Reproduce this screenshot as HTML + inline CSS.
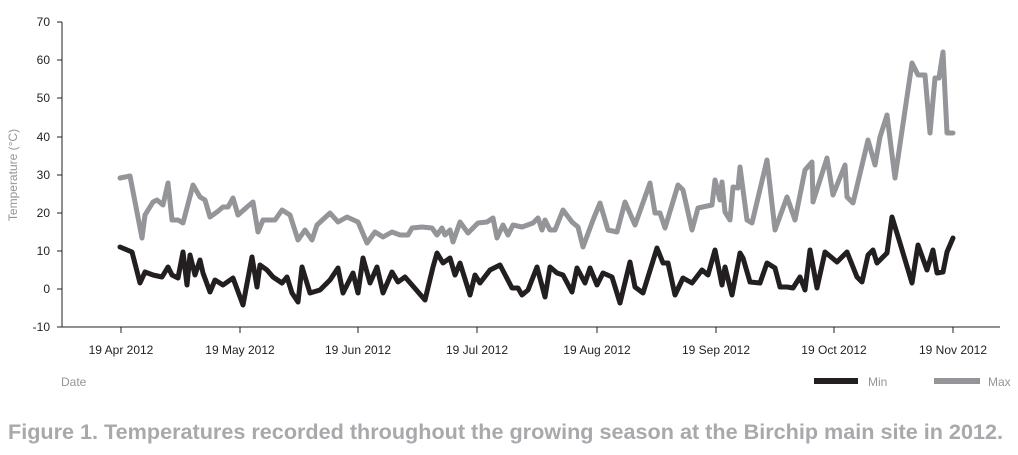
<!DOCTYPE html>
<html><head><meta charset="utf-8"><style>
body{margin:0;background:#fff;width:1018px;height:450px;overflow:hidden}
text{font-family:"Liberation Sans",sans-serif}
</style></head><body>
<svg width="1018" height="450" viewBox="0 0 1018 450" xmlns="http://www.w3.org/2000/svg">
<g stroke="#231f20" stroke-width="1" fill="none">
<line x1="62" y1="22" x2="62" y2="327"/>
<line x1="62" y1="327" x2="1000" y2="327"/>
<line x1="57" y1="22" x2="62" y2="22"/><line x1="57" y1="60" x2="62" y2="60"/><line x1="57" y1="98" x2="62" y2="98"/><line x1="57" y1="137" x2="62" y2="137"/><line x1="57" y1="175" x2="62" y2="175"/><line x1="57" y1="213" x2="62" y2="213"/><line x1="57" y1="251" x2="62" y2="251"/><line x1="57" y1="289" x2="62" y2="289"/><line x1="57" y1="327" x2="62" y2="327"/>
<line x1="121" y1="327" x2="121" y2="333"/><line x1="240" y1="327" x2="240" y2="333"/><line x1="358" y1="327" x2="358" y2="333"/><line x1="477" y1="327" x2="477" y2="333"/><line x1="597" y1="327" x2="597" y2="333"/><line x1="716" y1="327" x2="716" y2="333"/><line x1="834" y1="327" x2="834" y2="333"/><line x1="953" y1="327" x2="953" y2="333"/>
</g>
<g font-size="12" fill="#231f20" text-anchor="end">
<text x="50" y="26">70</text><text x="50" y="64">60</text><text x="50" y="102">50</text><text x="50" y="141">40</text><text x="50" y="179">30</text><text x="50" y="217">20</text><text x="50" y="255">10</text><text x="50" y="293">0</text><text x="50" y="331">-10</text>
</g>
<g font-size="12" fill="#231f20" text-anchor="middle">
<text x="121" y="354">19 Apr 2012</text><text x="240" y="354">19 May 2012</text><text x="358" y="354">19 Jun 2012</text><text x="477" y="354">19 Jul 2012</text><text x="597" y="354">19 Aug 2012</text><text x="716" y="354">19 Sep 2012</text><text x="834" y="354">19 Oct 2012</text><text x="953" y="354">19 Nov 2012</text>
</g>
<text x="17" y="175" font-size="12" fill="#939598" text-anchor="middle" transform="rotate(-90 17 175)">Temperature (°C)</text>
<text x="61" y="386" font-size="12" fill="#939598">Date</text>
<line x1="814" y1="381" x2="858" y2="381" stroke="#231f20" stroke-width="6"/>
<text x="868" y="386" font-size="12" fill="#939598">Min</text>
<line x1="934" y1="381" x2="980" y2="381" stroke="#939598" stroke-width="6"/>
<text x="988" y="386" font-size="12" fill="#939598">Max</text>
<text x="8" y="439" font-size="21" font-weight="bold" fill="#a7a9ac" textLength="995" lengthAdjust="spacingAndGlyphs">Figure 1. Temperatures recorded throughout the growing season at the Birchip main site in 2012.</text>
<g fill="none" stroke-width="5" stroke-linejoin="round" stroke-linecap="round">
<polyline stroke="#939598" points="120,178 130,176 142,238 145,215 153,202 157,200 163,205 168,183 172,220 178,220 183,223 193,185 200,197 205,200 210,217 217,212 223,207 228,207 233,198 238,215 247,207 253,202 258,232 263,220 275,220 282,210 290,215 298,240 305,230 312,240 317,225 330,213 338,222 347,217 358,222 367,243 375,232 383,237 392,232 400,235 408,235 412,228 422,227 432,228 437,235 442,228 445,235 450,230 453,242 460,222 468,233 478,223 487,222 493,218 497,238 503,225 508,235 513,225 522,227 533,223 538,218 542,230 545,220 550,230 555,230 563,210 572,222 578,227 583,247 593,220 600,203 608,230 617,232 625,202 635,225 650,183 655,213 660,213 665,228 678,185 683,190 692,230 698,208 712,205 715,180 720,200 722,182 725,212 730,220 733,187 738,188 740,167 747,220 752,223 767,160 775,230 787,197 795,220 805,170 812,162 813,202 827,158 833,195 845,165 847,197 853,203 868,140 875,165 880,137 887,115 895,178 912,63 918,75 925,75 930,133 935,78 939,78 943,52 947,133 953,133"/>
<polyline stroke="#231f20" points="120,247 132,252 140,283 145,272 153,275 162,277 168,267 172,275 178,278 183,252 187,285 190,255 195,275 200,260 203,273 210,292 215,280 223,285 233,278 243,305 252,257 257,287 260,265 267,270 273,277 282,283 287,277 292,293 298,302 302,267 310,293 320,290 330,280 338,268 343,293 353,273 358,293 363,258 370,283 377,267 383,293 392,272 398,282 405,277 412,285 425,300 433,267 437,253 443,263 450,258 455,275 460,263 470,295 475,275 480,283 490,270 500,265 512,288 518,288 522,295 528,290 537,267 545,297 550,267 557,273 563,275 572,292 577,268 585,283 590,268 597,285 603,273 612,277 620,303 630,262 635,287 643,293 657,248 663,263 668,263 675,295 683,278 692,283 702,270 708,275 715,250 722,285 725,267 732,295 740,253 743,258 750,282 760,283 767,263 775,268 780,287 787,287 793,288 800,277 805,290 810,250 817,288 825,252 837,262 847,252 857,277 862,282 868,255 873,250 877,263 887,253 892,217 900,243 912,283 918,245 927,270 933,250 937,273 943,272 947,252 953,238"/>
</g>
</svg>
</body></html>
